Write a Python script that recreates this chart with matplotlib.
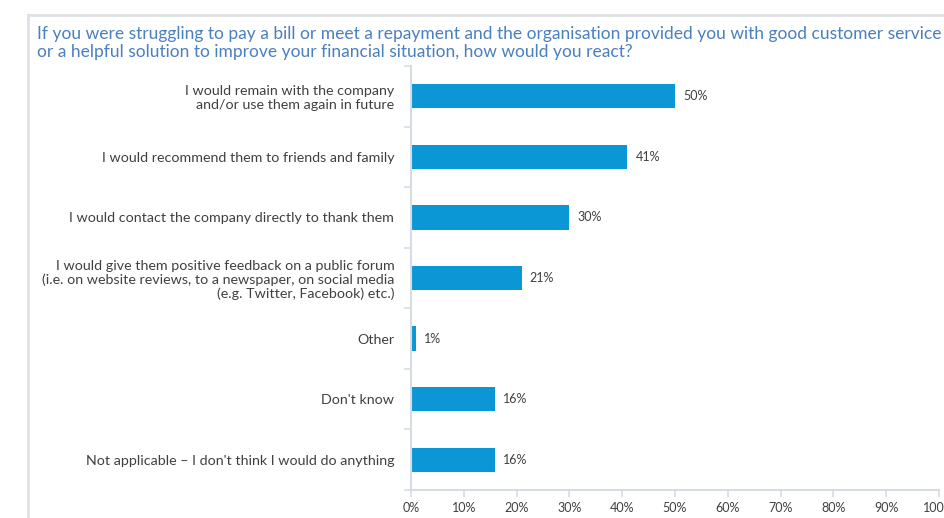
import numpy as np
import matplotlib.pyplot as plt
from matplotlib.lines import Line2D

categories = [
    "I would remain with the company\nand/or use them again in future",
    "I would recommend them to friends and family",
    "I would contact the company directly to thank them",
    "I would give them positive feedback on a public forum\n(i.e. on website reviews, to a newspaper, on social media\n(e.g. Twitter, Facebook) etc.)",
    "Other",
    "Don't know",
    "Not applicable \u2013 I don't think I would do anything",
]
values = [50, 41, 30, 21, 1, 16, 16]
x_ticks = [0, 10, 20, 30, 40, 50, 60, 70, 80, 90, 100]

title = ("If you were struggling to pay a bill or meet a repayment and the organisation provided you with good customer service\n"
         "or a helpful solution to improve your financial situation, how would you react?")

bar_color = "#0b96d5"
axis_color = "#d5dce6"
text_color = "#404040"
title_color = "#4a7fc0"

plt.rcParams['font.family'] = ['Lato', 'DejaVu Sans']

fig = plt.figure(figsize=(9.44, 5.18), dpi=100)
ax = fig.add_axes([411 / 944, 1 - 490 / 518, 528 / 944, 424 / 518])

y = np.arange(len(categories))
ax.barh(y, values, height=0.4, color=bar_color, zorder=2)
for yi, v in zip(y, values):
    ax.text(v + 1.5, yi, f"{v}%", va='center', ha='left', fontsize=9, color=text_color)

ax.set_ylim(len(categories) - 0.5, -0.5)
ax.set_xlim(0, 100)
ax.set_yticks(y)
ax.set_yticklabels(categories, fontsize=10.3, color=text_color, linespacing=1.15)
ax.set_yticks(np.arange(-0.5, len(categories), 1), minor=True)
ax.tick_params(axis='y', which='major', length=0, pad=12)
ax.tick_params(axis='y', which='minor', length=5, width=1.2, color=axis_color)

ax.set_xticks(x_ticks)
ax.set_xticklabels([f"{t}%" for t in x_ticks], fontsize=9, color=text_color)
ax.tick_params(axis='x', length=5, width=1.2, color=axis_color, pad=4)

for side in ('top', 'right'):
    ax.spines[side].set_visible(False)
for side in ('left', 'bottom'):
    ax.spines[side].set_color(axis_color)
    ax.spines[side].set_linewidth(1.5)

# outer panel border (left and top edges)
fig.add_artist(Line2D([28 / 944, 28 / 944], [0, 1 - 15 / 518], color="#dde2e8", lw=2))
fig.add_artist(Line2D([28 / 944, 1], [1 - 15 / 518, 1 - 15 / 518], color="#dde2e8", lw=2))

fig.text(37 / 944, 1 - 26 / 518, title, ha='left', va='top', fontsize=12.5,
         color=title_color, linespacing=1.12)

fig.savefig("out.png", dpi=100)
